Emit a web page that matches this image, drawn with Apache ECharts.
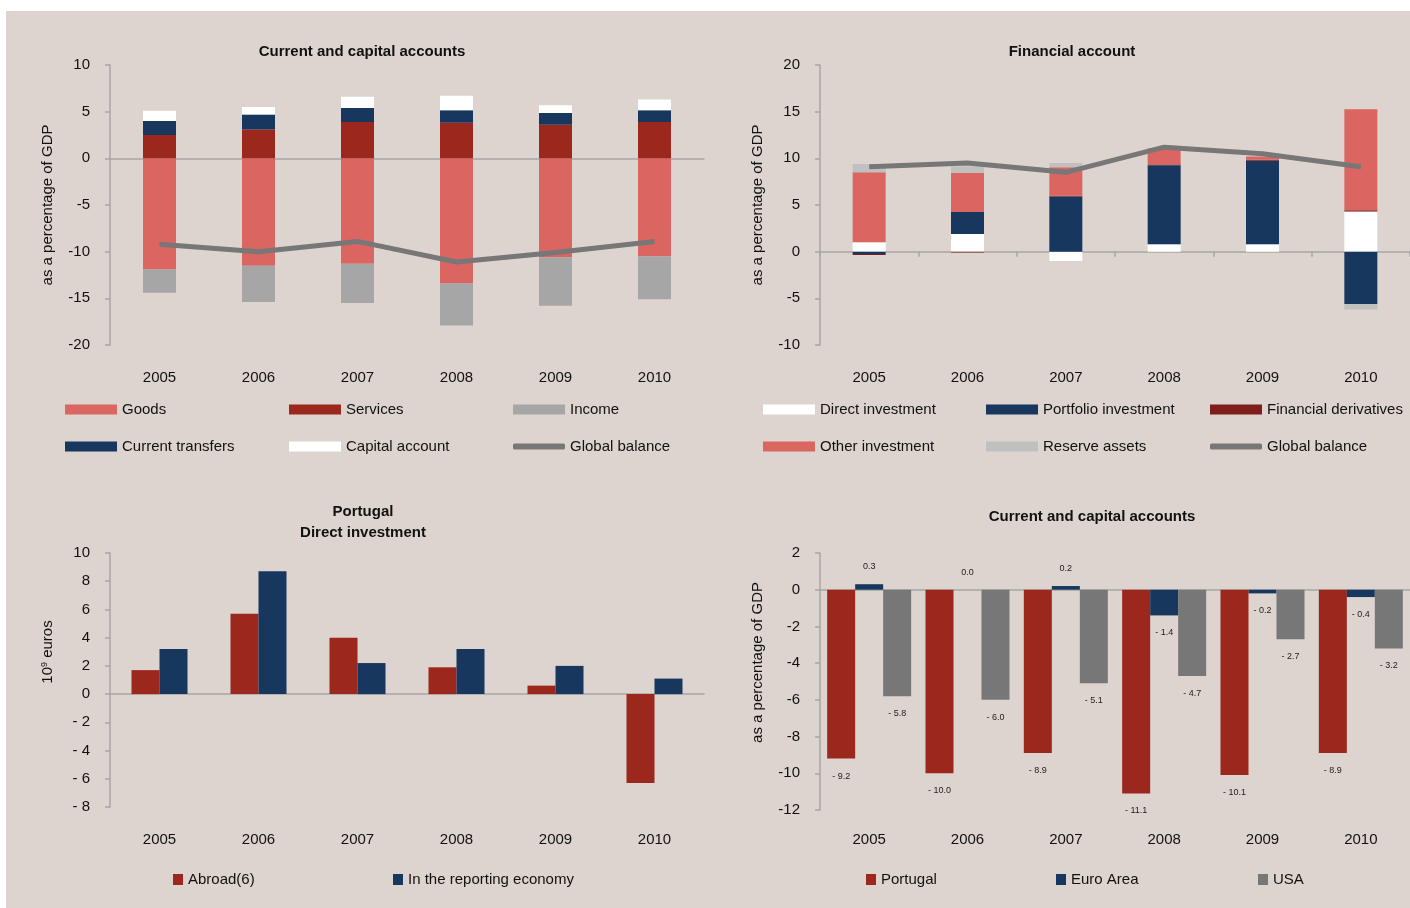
<!DOCTYPE html>
<html>
<head>
<meta charset="utf-8">
<script src="https://cdn.jsdelivr.net/npm/echarts@6/dist/echarts.min.js"></script>
<style>
  html, body { margin: 0; padding: 0; background: #fff; }
  #chart { width: 1410px; height: 908px; }
</style>
</head>
<body>
<div id="chart"></div>
<script>
const years = ['2005', '2006', '2007', '2008', '2009', '2010'];

// current and capital accounts (% of GDP)
const goods = [-11.9, -11.5, -11.3, -13.4, -10.6, -10.5];
const services = [2.5, 3.1, 3.9, 3.8, 3.6, 3.9];
const income = [-2.5, -3.9, -4.2, -4.5, -5.2, -4.6];
const transfers = [1.5, 1.6, 1.5, 1.35, 1.25, 1.25];
const capital = [1.1, 0.8, 1.2, 1.55, 0.85, 1.15];
const currentBalance = [-9.2, -10.0, -8.9, -11.1, -10.1, -8.9];

// financial account (% of GDP)
const directInv = [1.0, 1.9, -1.0, 0.8, 0.8, 4.3];
const portfolioInv = [-0.25, 2.35, 5.9, 8.45, 8.95, -5.6];
const derivatives = [-0.1, -0.1, 0.1, 0.1, 0.1, 0.15];
const otherInv = [7.5, 4.2, 3.05, 1.7, 0.35, 10.8];
const reserves = [0.9, 0.7, 0.45, 0, 0, -0.6];
const financialBalance = [9.1, 9.5, 8.5, 11.2, 10.5, 9.1];

// Portugal direct investment (10^9 euros)
const abroad = [1.7, 5.7, 4.0, 1.9, 0.6, -6.3];
const reporting = [3.2, 8.7, 2.2, 3.2, 2.0, 1.1];

// current and capital accounts, comparison (% of GDP)
const portugal = [-9.2, -10.0, -8.9, -11.1, -10.1, -8.9];
const euroArea = [0.3, 0.0, 0.2, -1.4, -0.2, -0.4];
const usa = [-5.8, -6.0, -5.1, -4.7, -2.7, -3.2];

const FONT = "'Liberation Sans', Arial, sans-serif";
const FS = 15;
const TXT = '#111';
const AX = '#a6a6a6';
const BG = '#ddd4cf';
const SALMON = '#db6560', DARKRED = '#9b271d', NAVY = '#17375e', GREY = '#a6a6a6',
      LINE = '#777777', DERIV = '#7f1f1c', RESERVE = '#c0c0c0';

const chart = echarts.init(document.getElementById('chart'));

function xAxes(g, margin, ticks) {
    return [
        {
            gridIndex: g, type: 'category', data: years, position: 'bottom',
            axisLine: {show: false, onZero: false},
            axisTick: {show: false},
            axisLabel: {color: TXT, fontFamily: FONT, fontSize: FS, margin: margin}
        },
        {
            gridIndex: g, type: 'category', data: years, position: 'bottom',
            axisLine: {show: true, onZero: true, lineStyle: {color: AX, width: 1.5}},
            axisTick: {show: ticks, length: 5, lineStyle: {color: AX, width: 1.5}},
            axisLabel: {show: false}
        }
    ];
}

function yAxis(g, min, max, interval, name, fmt, pad) {
    return {
        gridIndex: g, type: 'value', min: min, max: max, interval: interval,
        name: name, nameLocation: 'middle', nameRotate: 90, nameGap: 55,
        nameTextStyle: {
            color: TXT, fontFamily: FONT, fontSize: FS, padding: pad || 0,
            rich: {sup: {fontFamily: FONT, fontSize: 9, color: TXT, verticalAlign: 'top'}}
        },
        axisLine: {show: true, lineStyle: {color: AX, width: 1.5}},
        axisTick: {show: true, length: 5, lineStyle: {color: AX, width: 1.5}},
        axisLabel: {color: TXT, fontFamily: FONT, fontSize: FS, margin: 20, formatter: fmt},
        splitLine: {show: false}
    };
}

function leg(name, left, top, w, h, icon) {
    return {
        data: [{name: name, icon: icon || 'rect'}],
        left: left, top: top, padding: 0,
        itemWidth: w, itemHeight: h, itemGap: 0,
        selectedMode: false,
        textStyle: {color: TXT, fontFamily: FONT, fontSize: FS}
    };
}

function bar(name, data, g, stack, color, width) {
    return {
        name: name, type: 'bar', data: data,
        xAxisIndex: g * 2, yAxisIndex: g,
        stack: stack, barWidth: width, barGap: 0,
        itemStyle: {color: color},
        emphasis: {disabled: true}
    };
}

function valueLabel(v) {
    return v < 0 ? '- ' + Math.abs(v).toFixed(1) : v.toFixed(1);
}

function labelled(data) {
    return data.map(v => ({value: v, label: {position: v < 0 ? 'bottom' : 'top'}}));
}

const dashFmt = v => (v < 0 ? '- ' + (-v) : String(v));

const titleStyle = {color: TXT, fontFamily: FONT, fontSize: FS, fontWeight: 'bold', lineHeight: 21};

const option = {
    backgroundColor: '#fff',
    animation: false,
    graphic: [{
        type: 'rect', left: 6, top: 11, z: -100, silent: true,
        shape: {width: 1404, height: 897},
        style: {fill: BG}
    }],
    title: [
        {text: 'Current and capital accounts', left: 362, top: 41, textAlign: 'center', padding: 0, textStyle: titleStyle},
        {text: 'Financial account', left: 1072, top: 41, textAlign: 'center', padding: 0, textStyle: titleStyle},
        {text: 'Portugal\nDirect investment', left: 363, top: 501, textAlign: 'center', padding: 0, textStyle: titleStyle},
        {text: 'Current and capital accounts', left: 1092, top: 506, textAlign: 'center', padding: 0, textStyle: titleStyle}
    ],
    grid: [
        {left: 110, top: 65, width: 594, height: 280},
        {left: 820, top: 65, width: 594, height: 280},
        {left: 110, top: 553, width: 594, height: 254},
        {left: 820, top: 553, width: 594, height: 257}
    ],
    xAxis: [].concat(
        xAxes(0, 25, false),
        xAxes(1, 25, true),
        xAxes(2, 25, false),
        xAxes(3, 22, false)
    ),
    yAxis: [
        yAxis(0, -20, 10, 5, 'as a percentage of GDP'),
        yAxis(1, -10, 20, 5, 'as a percentage of GDP'),
        yAxis(2, -8, 10, 2, '10{sup|9} euros', dashFmt, [0, 0, 0, 56]),
        yAxis(3, -12, 2, 2, 'as a percentage of GDP', null, [0, 0, 0, 38])
    ],
    legend: [
        leg('Goods', 65, 402, 52, 10),
        leg('Services', 289, 402, 52, 10),
        leg('Income', 513, 402, 52, 10),
        leg('Current transfers', 65, 439, 52, 10),
        leg('Capital account', 289, 439, 52, 10),
        leg('Global balance', 513, 439, 52, 6, 'roundRect'),
        leg('Direct investment', 763, 402, 52, 10),
        leg('Portfolio investment', 986, 402, 52, 10),
        leg('Financial derivatives', 1210, 402, 52, 10),
        leg('Other investment', 763, 439, 52, 10),
        leg('Reserve assets', 986, 439, 52, 10),
        leg('Global balance', 1210, 439, 52, 6, 'roundRect'),
        leg('Abroad(6)', 173, 872, 10, 11),
        leg('In the reporting economy', 393, 872, 10, 11),
        leg('Portugal', 866, 872, 10, 11),
        leg('Euro Area', 1056, 872, 10, 11),
        leg('USA', 1258, 872, 10, 11)
    ],
    series: [
        bar('Goods', goods, 0, 'cc', SALMON, 33),
        bar('Services', services, 0, 'cc', DARKRED, 33),
        bar('Income', income, 0, 'cc', GREY, 33),
        bar('Current transfers', transfers, 0, 'cc', NAVY, 33),
        bar('Capital account', capital, 0, 'cc', '#ffffff', 33),
        {
            name: 'Global balance', type: 'line', data: currentBalance,
            xAxisIndex: 0, yAxisIndex: 0, symbol: 'none', z: 5,
            lineStyle: {color: LINE, width: 5}, itemStyle: {color: LINE}
        },

        bar('Direct investment', directInv, 1, 'fa', '#ffffff', 33),
        bar('Portfolio investment', portfolioInv, 1, 'fa', NAVY, 33),
        bar('Financial derivatives', derivatives, 1, 'fa', DERIV, 33),
        bar('Other investment', otherInv, 1, 'fa', SALMON, 33),
        bar('Reserve assets', reserves, 1, 'fa', RESERVE, 33),
        {
            name: 'Global balance', type: 'line', data: financialBalance,
            xAxisIndex: 2, yAxisIndex: 1, symbol: 'none', z: 5,
            lineStyle: {color: LINE, width: 5}, itemStyle: {color: LINE}
        },

        bar('Abroad(6)', abroad, 2, null, DARKRED, 28),
        bar('In the reporting economy', reporting, 2, null, NAVY, 28)
    ].concat([
        ['Portugal', portugal, DARKRED],
        ['Euro Area', euroArea, NAVY],
        ['USA', usa, LINE]
    ].map(([name, data, color]) => Object.assign(bar(name, labelled(data), 3, null, color, 28), {
        label: {
            show: true, distance: 13, color: '#222', fontFamily: FONT, fontSize: 9,
            formatter: p => valueLabel(p.value)
        }
    })))
};

chart.setOption(option);
</script>
</body>
</html>
